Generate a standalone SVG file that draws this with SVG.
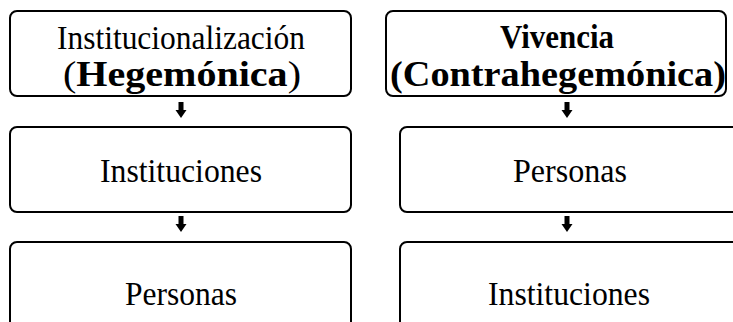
<svg xmlns="http://www.w3.org/2000/svg" xmlns:xlink="http://www.w3.org/1999/xlink" width="733" height="322" viewBox="0 0 733 322">
<style>
.box{fill:#fff;stroke:#000;stroke-width:2}
.t{font-family:"Liberation Serif","Times New Roman",serif;font-size:34px;fill:#000;text-anchor:middle}
.b{font-weight:bold}
.big{font-size:35px}
.arr{fill:#000}
</style>
<defs>
<path id="arrow" d="M-2.5,0 H2.5 V8 H5.5 L0,16 L-5.5,8 H-2.5 Z"/>
</defs>
<rect width="733" height="322" fill="#fff"/>
<g id="n1">
<rect class="box" x="10" y="11" width="341" height="85" rx="7"/>
<text class="t" x="181" y="49" textLength="248" lengthAdjust="spacingAndGlyphs">Institucionalización</text>
<text class="t big" x="182" y="86" textLength="238" lengthAdjust="spacingAndGlyphs">(<tspan class="b">Hegemónica</tspan>)</text>
</g>
<g id="n2">
<rect class="box" x="386" y="11" width="340" height="85" rx="7"/>
<text class="t b" x="557" y="48" textLength="114" lengthAdjust="spacingAndGlyphs">Vivencia</text>
<text class="t b big" x="558" y="86" textLength="336" lengthAdjust="spacingAndGlyphs">(Contrahegemónica)</text>
</g>
<g id="n3">
<rect class="box" x="10" y="127" width="341" height="85" rx="7"/>
<text class="t" x="181" y="182" textLength="162" lengthAdjust="spacingAndGlyphs">Instituciones</text>
</g>
<g id="n4">
<rect class="box" x="400" y="127" width="345" height="85" rx="7"/>
<text class="t" x="570" y="182" textLength="114" lengthAdjust="spacingAndGlyphs">Personas</text>
</g>
<g id="n5">
<rect class="box" x="10" y="242" width="341" height="100" rx="7"/>
<text class="t" x="181" y="305" textLength="112" lengthAdjust="spacingAndGlyphs">Personas</text>
</g>
<g id="n6">
<rect class="box" x="400" y="242" width="345" height="100" rx="7"/>
<text class="t" x="569" y="305" textLength="162" lengthAdjust="spacingAndGlyphs">Instituciones</text>
</g>
<g id="connectors" class="arr">
<use xlink:href="#arrow" x="181" y="102"/>
<use xlink:href="#arrow" x="181" y="216"/>
<use xlink:href="#arrow" x="567" y="102"/>
<use xlink:href="#arrow" x="567" y="216"/>
</g>
</svg>
